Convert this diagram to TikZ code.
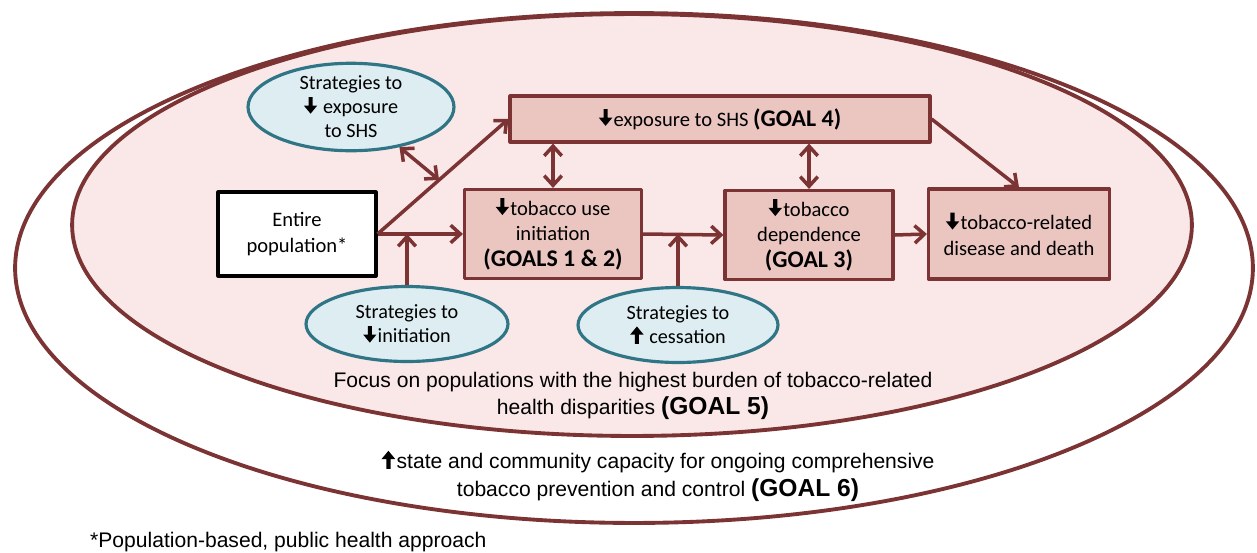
\documentclass[tikz,border=0pt]{standalone}
\usepackage{fontspec}
\setmainfont{Carlito}
\newfontfamily\arialfont{Liberation Sans}
\usetikzlibrary{arrows.meta,shapes.geometric,calc}
\definecolor{rim}{HTML}{7B3333}
\definecolor{boxfill}{HTML}{EBC6C1}
\definecolor{zonefill}{HTML}{FAE8E8}
\definecolor{stratfill}{HTML}{DDEDF2}
\definecolor{stratrim}{HTML}{2F7585}

% heavy arrow glyphs used inside the labels
\newcommand{\arrdown}{\tikz[baseline=-0.05em,x=1em,y=1em]\fill
  (-0.1,0.78)--(0.1,0.78)--(0.1,0.36)--(0.33,0.36)--(0,-0.04)--(-0.33,0.36)--(-0.1,0.36)--cycle;\kern0.06em}
\newcommand{\arrup}{\tikz[baseline=-0.1em,x=1em,y=1em]\fill
  (-0.1,-0.1)--(0.1,-0.1)--(0.1,0.36)--(0.33,0.36)--(0,0.76)--(-0.33,0.36)--(-0.1,0.36)--cycle;\kern0.06em}
\newcommand{\goal}[1]{{\bfseries\fontsize{13.6}{15}\selectfont #1}}

\begin{document}
\begin{tikzpicture}[
  x=0.02cm, y=-0.02cm, line join=round,
  >={Straight Barb[length=5.5pt,width=10pt]},
  goalbox/.style={draw=rim, fill=boxfill, line width=1.8pt, align=center,
    inner sep=0pt, font=\fontsize{11.7}{14.5}\selectfont},
  strat/.style={ellipse, draw=stratrim, fill=stratfill, line width=1.8pt,
    align=center, inner sep=0pt, font=\fontsize{11.5}{13.6}\selectfont},
  flow/.style={draw=rim, line width=2pt, ->},
  both/.style={draw=rim, line width=2pt, <->},
  zone/.style={draw=rim, line width=2.2pt},
  zonetxt/.style={align=center, font=\arialfont\fontsize{12}{15.5}\selectfont}]

\useasboundingbox (0,0) rectangle (1257,552);

% ================================================================ zones
\path[zone, fill=white] (634,268) ellipse [x radius=12.38cm, y radius=5.1cm];
\path[zone, fill=zonefill] (632,225) ellipse [x radius=11.2cm, y radius=4.22cm];

% ================================================================ boxes
\node[draw=black, fill=white, line width=1.8pt, align=center, inner sep=0pt,
  minimum width=3.16cm, minimum height=1.68cm,
  font=\fontsize{11.7}{14.5}\selectfont] (pop) at (297,234) {Entire\\population*};
\node[goalbox, minimum width=8.4cm, minimum height=0.92cm] (shs) at (720,119)
  {\arrdown exposure to SHS \goal{(GOAL 4)}};
\node[goalbox, minimum width=3.54cm, minimum height=1.78cm] (init) at (553,234)
  {\arrdown tobacco use\\initiation\\\goal{(GOALS 1 \& 2)}};
\node[goalbox, minimum width=3.36cm, minimum height=1.78cm] (dep) at (809,235)
  {\arrdown tobacco\\dependence\\\goal{(GOAL 3)}};
\node[goalbox, minimum width=3.62cm, minimum height=1.8cm] (dis) at (1019,234)
  {\arrdown tobacco-related\\disease and death};

% ================================================================ strategies
\node[strat, minimum width=4.12cm, minimum height=1.56cm] (sshs) at (351,107)
  {Strategies to\\\arrdown\ exposure\\to SHS};
\node[strat, minimum width=4.04cm, minimum height=1.5cm] (sinit) at (407,324)
  {Strategies to\\\arrdown initiation};
\node[strat, minimum width=4.0cm, minimum height=1.5cm] (sces) at (678,325)
  {Strategies to\\\arrup\ cessation};

% ================================================================ arrows
\coordinate (fork) at ($(pop.east)!0.47!(shs.west)$);
\draw[flow] (pop.east) -- (init.west);
\draw[flow] (pop.east) -- (shs.west);
\draw[flow] (init.east) -- (dep.west);
\draw[flow] (dep.east) -- (dis.west);
\draw[flow] (shs.east) -- (dis.north);
\draw[flow] (sinit.north) -- (sinit.north |- pop.east);
\draw[flow] (sces.north) -- (sces.north |- init.east);
\draw[both] (sshs) -- (fork);
\draw[both] (shs.south -| init.north) -- (init.north);
\draw[both] (shs.south -| dep.north) -- (dep.north);

% ================================================================ texts
\node[zonetxt] (focus) at (633,396)
  {Focus on populations with the highest burden of tobacco-related\\
   health disparities {\bfseries\fontsize{14}{15.5}\selectfont(GOAL 5)}};
\node[zonetxt] (capacity) at (658,476)
  {\arrup state and community capacity for ongoing comprehensive\\
   tobacco prevention and control {\bfseries\fontsize{14}{15.5}\selectfont(GOAL 6)}};
\node[zonetxt, anchor=west] (note) at (84,542) {*Population-based, public health approach};

\end{tikzpicture}
\end{document}
